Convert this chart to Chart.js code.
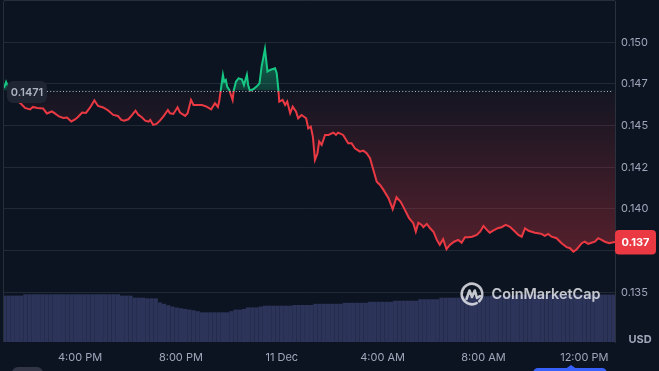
<!DOCTYPE html>
<html><head><meta charset="utf-8">
<script src="https://cdn.jsdelivr.net/npm/chart.js@4.4.1/dist/chart.umd.min.js"></script>
<style>html,body{margin:0;padding:0;background:#0d1421;overflow:hidden}canvas{display:block}</style>
</head><body>
<canvas id="c" width="659" height="371"></canvas>
<script>
// time = minutes since 12:00 on 10 Dec
const times=[59,64,74,88,100,109,121,128,138,152,161,173,180,190,200,209,219,228,235,245,254,264,274,283,295,307,319,330,338,345,355,364,372,379,387,395,403,407,414,422,430,438,449,454,462,472,478,490,496,504,510,518,530,541,552,561,568,571,575,580,583,587,590,595,599,603,606,611,617,625,630,637,640,644,652,660,667,672,680,686,692,704,708,712,714,722,728,733,740,746,754,759,767,778,783,789,794,799,805,809,815,823,831,843,849,854,866,878,886,894,906,914,922,930,938,946,954,962,974,984,993,1003,1013,1023,1033,1039,1045,1053,1057,1065,1073,1081,1089,1096,1104,1112,1120,1130,1140,1148,1156,1164,1173,1184,1192,1200,1208,1215,1223,1234,1243,1253,1263,1273,1283,1291,1299,1307,1315,1322,1330,1338,1346,1354,1362,1374,1386,1398,1406,1414,1422,1434,1441,1449,1457,1465,1473,1481,1489,1499,1509,1513];
const prices=[0.14726,0.14762,0.14702,0.14654,0.14630,0.14606,0.14597,0.14612,0.14606,0.14603,
0.14573,0.14585,0.14573,0.14555,0.14546,0.14549,0.14525,0.14537,0.14552,0.14579,
0.14576,0.14609,0.14651,0.14618,0.14609,0.14591,0.14564,0.14558,0.14534,0.14530,
0.14538,0.14564,0.14590,0.14564,0.14550,0.14530,0.14524,0.14534,0.14504,0.14510,
0.14530,0.14554,0.14594,0.14574,0.14570,0.14610,0.14578,0.14558,0.14574,0.14654,
0.14624,0.14624,0.14624,0.14614,0.14598,0.14634,0.14612,0.14644,0.14714,0.14804,
0.14764,0.14774,0.14734,0.14714,0.14684,0.14654,0.14714,0.14764,0.14784,0.14778,
0.14744,0.14804,0.14744,0.14710,0.14718,0.14734,0.14754,0.14854,0.14960,0.14824,
0.14834,0.14844,0.14814,0.14714,0.14644,0.14654,0.14624,0.14644,0.14574,0.14614,
0.14584,0.14544,0.14564,0.14544,0.14484,0.14494,0.14434,0.14294,0.14334,0.14404,
0.14384,0.14444,0.14444,0.14458,0.14444,0.14458,0.14444,0.14394,0.14394,0.14364,
0.14344,0.14350,0.14334,0.14304,0.14234,0.14163,0.14144,0.14114,0.14064,0.13998,
0.14070,0.14043,0.13994,0.13944,0.13914,0.13863,0.13917,0.13904,0.13890,0.13910,
0.13884,0.13863,0.13814,0.13784,0.13818,0.13758,0.13784,0.13803,0.13814,0.13797,
0.13830,0.13830,0.13833,0.13844,0.13863,0.13898,0.13874,0.13857,0.13869,0.13884,
0.13890,0.13904,0.13893,0.13869,0.13844,0.13833,0.13884,0.13869,0.13863,0.13857,
0.13854,0.13850,0.13838,0.13850,0.13833,0.13824,0.13794,0.13770,0.13764,0.13743,
0.13758,0.13794,0.13803,0.13790,0.13797,0.13803,0.13824,0.13814,0.13803,0.13794,
0.13800,0.13802];
const volTimes=[60,70,80,90,100,110,120,130,140,150,160,170,180,190,200,210,220,230,240,250,260,270,280,290,300,310,320,330,340,350,360,370,380,390,400,410,420,430,440,450,460,470,480,490,500,510,520,530,540,550,560,570,580,590,600,610,620,630,640,650,660,670,680,690,700,710,720,730,740,750,760,770,780,790,800,810,820,830,840,850,860,870,880,890,900,910,920,930,940,950,960,970,980,990,1000,1010,1020,1030,1040,1050,1060,1070,1080,1090,1100,1110,1120,1130,1140,1150,1160,1170,1180,1190,1200,1210,1220,1230,1240,1250,1260,1270,1280,1290,1300,1310,1320,1330,1340,1350,1360,1370,1380,1390,1400,1410,1420,1430,1440,1450,1460,1470,1480,1490,1500,1510];
const volumes=[135,135,135,135,135,139,139,139,139,139,139,139,139,139,139,139,139,139,139,139,139,139,139,139,139,139,139,139,
135,135,135,129,129,129,127,127,127,115,111,107,103,100,98,96,94,92,89.5,86,86,86,86,86,86,86,
89.5,94,94,96,100.5,100.5,100.5,103,105.5,105.5,105.5,105.5,105.5,105.5,105.5,107.5,107.5,107.5,107.5,107.5,
111,111,111,111,111,111,111,114,114,114,114,114,114,117,117,117,117,117,117,120,120,120,120,120,120,
124.5,124.5,124.5,124.5,124.5,129,129,129,129,129,133,133,133,133,133,133,133,135,135,135,135,135,135,
138,138,138,138,138,138,138,138,138,138,138,138,138,138,138,138,138,138,138,138,138,138,138,138];
const baselinePrice=0.1471, baselineLabel='0.1471', lastPriceLabel='0.137';
const xTickValues=[240,480,720,960,1200,1440];
const xTickLabels=['4:00 PM','8:00 PM','11 Dec','4:00 AM','8:00 AM','12:00 PM'];
const yTickValues=[0.135,0.1375,0.14,0.1425,0.145,0.1475,0.15];
const yTickLabels=['0.135','0.137','0.140','0.142','0.145','0.147','0.150'];
const unitLabel='USD', watermarkText='CoinMarketCap';

const GREEN='#16c784', RED='#ea3943', BG='#0d1421', GRID='#212936', TXT='#a1a7bb';
const FONT="Inter, 'Noto Sans', sans-serif";
Chart.defaults.font.family=FONT;

const overlay={id:'overlay',
 beforeDraw(chart){const c=chart.ctx;c.save();c.fillStyle=BG;c.fillRect(0,0,chart.width,chart.height);c.restore();},
 afterDraw(chart){
  const c=chart.ctx, ca=chart.chartArea, ys=chart.scales.y;
  c.save();
  c.strokeStyle='#262e3b';c.lineWidth=1;
  c.beginPath();c.moveTo(ca.left-0.5,ca.top);c.lineTo(ca.left-0.5,ca.bottom);
  c.moveTo(ca.left,ca.top-0.5);c.lineTo(ca.right,ca.top-0.5);c.stroke();
  const cx=ca.right-143, cy=ca.bottom-48;
  c.strokeStyle='rgba(235,237,242,0.82)';c.lineWidth=2.6;c.lineCap='round';c.lineJoin='round';
  c.beginPath();c.arc(cx,cy,10.3,0.35*Math.PI,2.25*Math.PI);c.stroke();
  c.beginPath();c.moveTo(cx-5.5,cy+5);c.lineTo(cx-2.5,cy-3.5);c.lineTo(cx,cy+3);c.lineTo(cx+2.8,cy-3.5);c.lineTo(cx+5,cy+4);c.lineTo(cx+8,cy+2);c.stroke();
  c.fillStyle='rgba(235,237,242,0.82)';
  let fs=15;c.font='600 '+fs+'px '+FONT;const w=c.measureText(watermarkText).width;fs=fs*109/w;
  c.font='600 '+fs.toFixed(2)+'px '+FONT;c.textBaseline='middle';c.textAlign='left';
  c.fillText(watermarkText,cx+19.5,cy+1);
  const yb=Math.round(ys.getPixelForValue(baselinePrice))+0.5;
  c.strokeStyle='rgba(220,224,232,0.8)';c.lineWidth=1;c.setLineDash([1,2.2]);c.lineCap='butt';
  c.beginPath();c.moveTo(ca.left+43,yb);c.lineTo(ca.right-2,yb);c.stroke();c.setLineDash([]);
  c.fillStyle='#1f2533';c.beginPath();c.roundRect(ca.left+3,yb-10.5,40,22,6);c.fill();
  c.fillStyle='#aeb3c1';c.font='600 11px '+FONT;c.textAlign='center';c.textBaseline='middle';
  c.fillText(baselineLabel,ca.left+23,yb+1);
  const yl=ys.getPixelForValue(prices[prices.length-1]);
  c.fillStyle=RED;c.beginPath();c.roundRect(ca.right,yl-12,41,24.5,4);c.fill();
  c.fillStyle='#ffffff';c.font='700 11px '+FONT;c.fillText(lastPriceLabel,ca.right+20.5,yl+1);
  c.fillStyle=TXT;c.font='700 11px '+FONT;c.fillText(unitLabel,ca.right+25,ca.bottom-2.5);
  c.fillStyle='#323546';c.beginPath();c.roundRect(12,367,31,14,6);c.fill();
  c.fillStyle='#3861fb';c.beginPath();c.roundRect(533,368,74,14,5);c.fill();
  c.beginPath();c.moveTo(566,368.5);c.lineTo(571,365);c.lineTo(576,368.5);c.fill();
  c.restore();
 }
};

const chart=new Chart(document.getElementById('c'),{
 type:'line',
 data:{datasets:[
  {type:'line',data:times.map((t,i)=>({x:t,y:prices[i]})),borderColor:RED,borderWidth:2,pointRadius:0,tension:0,
   fill:{target:{value:baselinePrice},above:'rgba(22,199,132,0.35)',below:'rgba(234,57,67,0.15)'},order:1,yAxisID:'y'},
  {type:'bar',data:volTimes.map((t,i)=>({x:t,y:volumes[i]})),backgroundColor:'#2c3459',borderWidth:0,barThickness:3.6,order:2,yAxisID:'y2'}
 ]},
 options:{
  responsive:false,animation:false,events:[],
  layout:{padding:{left:4,top:1,right:0,bottom:0}},
  plugins:{legend:{display:false},tooltip:{enabled:false}},
  scales:{
   x:{type:'linear',min:59,max:1513,offset:false,
     grid:{display:false,drawTicks:false},border:{display:false},
     afterBuildTicks:s=>{s.ticks=xTickValues.map(v=>({value:v}));},
     afterFit:s=>{s.height=29;s.paddingLeft=0;s.paddingRight=0;},
     ticks:{autoSkip:false,maxRotation:0,padding:9,color:TXT,font:{size:11},callback:v=>xTickLabels[xTickValues.indexOf(v)]}},
   y:{type:'linear',position:'right',min:0.13201,max:0.15248,
     grid:{color:GRID,drawTicks:false},border:{display:true,color:'#2a313d'},
     afterBuildTicks:s=>{s.ticks=yTickValues.map(v=>({value:v}));},
     afterFit:s=>{s.width=44;s.paddingTop=0;s.paddingBottom=0;},
     ticks:{padding:6,color:TXT,font:{size:11},callback:v=>yTickLabels[yTickValues.findIndex(t=>Math.abs(t-v)<1e-9)]}},
   y2:{type:'linear',display:false,min:0,max:1000}
  }
 },
 plugins:[overlay]
});

(function(){
 const ys=chart.scales.y, ca=chart.chartArea, ctx=chart.ctx;
 const yb=ys.getPixelForValue(baselinePrice);
 const f=(yb-ca.top)/(ca.bottom-ca.top);
 const stroke=ctx.createLinearGradient(0,ca.top,0,ca.bottom);
 stroke.addColorStop(0,GREEN);stroke.addColorStop(f,GREEN);stroke.addColorStop(f,RED);stroke.addColorStop(1,RED);
 const yMax=ys.getPixelForValue(Math.max(...prices)), yMin=ys.getPixelForValue(Math.min(...prices));
 const gUp=ctx.createLinearGradient(0,yMax,0,yb);
 gUp.addColorStop(0,'rgba(22,199,132,0.5)');gUp.addColorStop(1,'rgba(22,199,132,0.22)');
 const gDn=ctx.createLinearGradient(0,yb,0,yMin);
 gDn.addColorStop(0,'rgba(234,57,67,0.03)');gDn.addColorStop(1,'rgba(234,57,67,0.32)');
 const ds=chart.data.datasets[0];
 ds.borderColor=stroke;ds.fill={target:{value:baselinePrice},above:gUp,below:gDn};
 chart.update('none');
})();
</script>
</body></html>
